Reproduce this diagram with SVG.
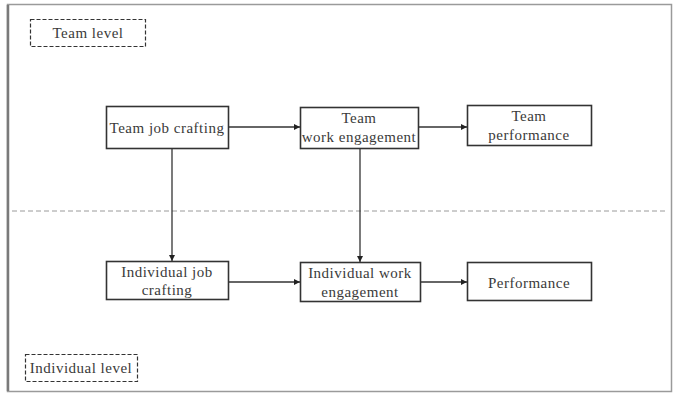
<svg xmlns="http://www.w3.org/2000/svg" width="676" height="398" viewBox="0 0 676 398">
  <style>
    .frame { fill: #ffffff; stroke: #9a9a9a; }
    .node rect { fill: #ffffff; stroke: #333333; stroke-width: 1.6; }
    .level rect { fill: none; stroke: #333333; stroke-width: 1.2; stroke-dasharray: 4 2; }
    text { font-family: "Liberation Serif", "Times New Roman", serif; font-size: 15px; letter-spacing: 0.5px; fill: #3a3a3a; text-anchor: middle; }
    .divider { stroke: #9a9a9a; stroke-width: 1; stroke-dasharray: 5 3; fill: none; }
    .conn line { stroke: #333333; stroke-width: 1.3; marker-end: url(#arrow); }
  </style>
  <defs>
    <marker id="arrow" viewBox="0 0 10 10" refX="10" refY="5" markerWidth="6" markerHeight="6" markerUnits="userSpaceOnUse" orient="auto">
      <path d="M0,0 L10,5 L0,10 z" fill="#222222"/>
    </marker>
  </defs>

  <rect width="676" height="398" fill="#ffffff"/>
  <!-- outer frame -->
  <rect class="frame" x="7.5" y="4.5" width="664" height="387" stroke-width="1.5"/>
  <line x1="8" y1="5" x2="8" y2="391" stroke="#7a7a7a" stroke-width="2.5"/>

  <!-- level divider -->
  <line class="divider" x1="12" y1="211" x2="668" y2="211"/>

  <g id="team-level" class="level">
    <rect x="30.5" y="19.5" width="115" height="27"/>
    <text x="88" y="38">Team level</text>
  </g>

  <g id="individual-level" class="level">
    <rect x="25.5" y="354.5" width="112" height="27"/>
    <text x="81" y="373">Individual level</text>
  </g>

  <g id="team-job-crafting" class="node">
    <rect x="106.5" y="106.5" width="122" height="42"/>
    <text x="167" y="133">Team job crafting</text>
  </g>

  <g id="team-work-engagement" class="node">
    <rect x="300.5" y="107.5" width="118" height="41"/>
    <text x="359" y="123">Team</text>
    <text x="359" y="142">work engagement</text>
  </g>

  <g id="team-performance" class="node">
    <rect x="467.5" y="105.5" width="124" height="40"/>
    <text x="529" y="121">Team</text>
    <text x="529" y="140">performance</text>
  </g>

  <g id="individual-job-crafting" class="node">
    <rect x="106.5" y="261.5" width="122" height="38"/>
    <text x="167" y="277">Individual job</text>
    <text x="167" y="295">crafting</text>
  </g>

  <g id="individual-work-engagement" class="node">
    <rect x="300.5" y="262.5" width="120" height="39"/>
    <text x="360" y="278">Individual work</text>
    <text x="360" y="297">engagement</text>
  </g>

  <g id="performance" class="node">
    <rect x="467.5" y="262.5" width="124" height="38"/>
    <text x="529" y="288">Performance</text>
  </g>

  <g id="connectors" class="conn">
    <line x1="229" y1="127" x2="300" y2="127"/>
    <line x1="419" y1="127" x2="467" y2="127"/>
    <line x1="172" y1="149" x2="172" y2="261"/>
    <line x1="360" y1="149" x2="360" y2="262"/>
    <line x1="229" y1="282" x2="300" y2="282"/>
    <line x1="421" y1="282" x2="467" y2="282"/>
  </g>
</svg>
